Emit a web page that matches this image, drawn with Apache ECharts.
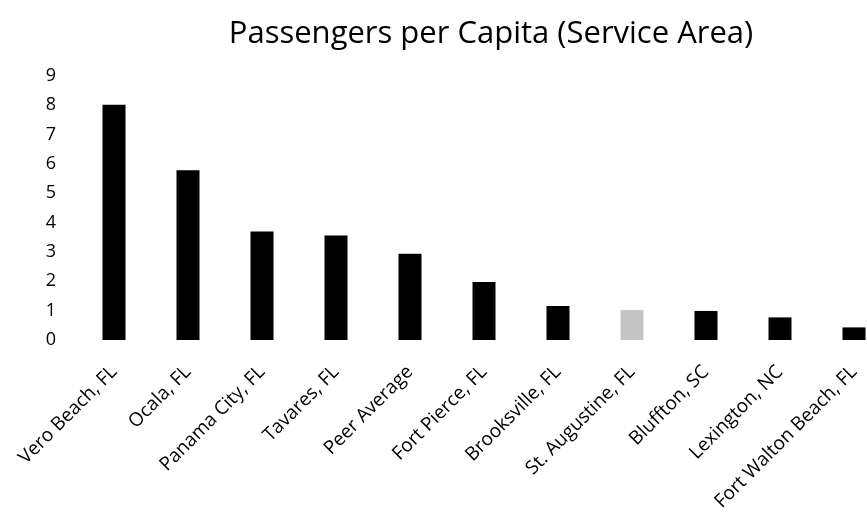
<!DOCTYPE html>
<html><head><meta charset="utf-8">
<script src="https://cdn.jsdelivr.net/npm/echarts@6/dist/echarts.min.js"></script>
<style>html,body{margin:0;padding:0;background:#fff}#c{width:867px;height:520px}</style>
</head><body><div id="c"></div>
<script>
const titleText = 'Passengers per Capita (Service Area)';
const categories = ['Vero Beach, FL','Ocala, FL','Panama City, FL','Tavares, FL','Peer Average','Fort Pierce, FL','Brooksville, FL','St. Augustine, FL','Bluffton, SC','Lexington, NC','Fort Walton Beach, FL'];
const values = [8.02, 5.79, 3.70, 3.56, 2.94, 1.98, 1.16, 1.02, 0.99, 0.77, 0.43];
const highlighted = ['St. Augustine, FL'];
const yTicks = [0,1,2,3,4,5,6,7,8,9];

const font = '"Open Sans", sans-serif';
const chart = echarts.init(document.getElementById('c'), null, {renderer:'canvas'});
chart.setOption({
  animation:false,
  backgroundColor:'#fff',
  title:{text:titleText, left:486, top:14, textAlign:'center',
    textStyle:{fontFamily:font, fontSize:31, fontWeight:'normal', color:'#000'}},
  grid:{left:77, top:76, right:-24, bottom:180, containLabel:false, outerBoundsMode:'none'},
  xAxis:{type:'category', data:categories,
    axisLine:{show:false}, axisTick:{show:false},
    axisLabel:{interval:0, rotate:45, margin:29, color:'#000', fontFamily:font, fontSize:19}},
  yAxis:{type:'value', min:yTicks[0], max:yTicks[yTicks.length-1], interval:1,
    axisLine:{show:false}, axisTick:{show:false}, splitLine:{show:false},
    axisLabel:{color:'#000', fontFamily:font, fontSize:18, margin:21, align:'right'}},
  series:[{type:'bar', barWidth:23,
    data: values.map((v,i)=>({value:v, itemStyle:{color: highlighted.includes(categories[i]) ? '#c4c4c4' : '#000'}}))}]
});
</script></body></html>
